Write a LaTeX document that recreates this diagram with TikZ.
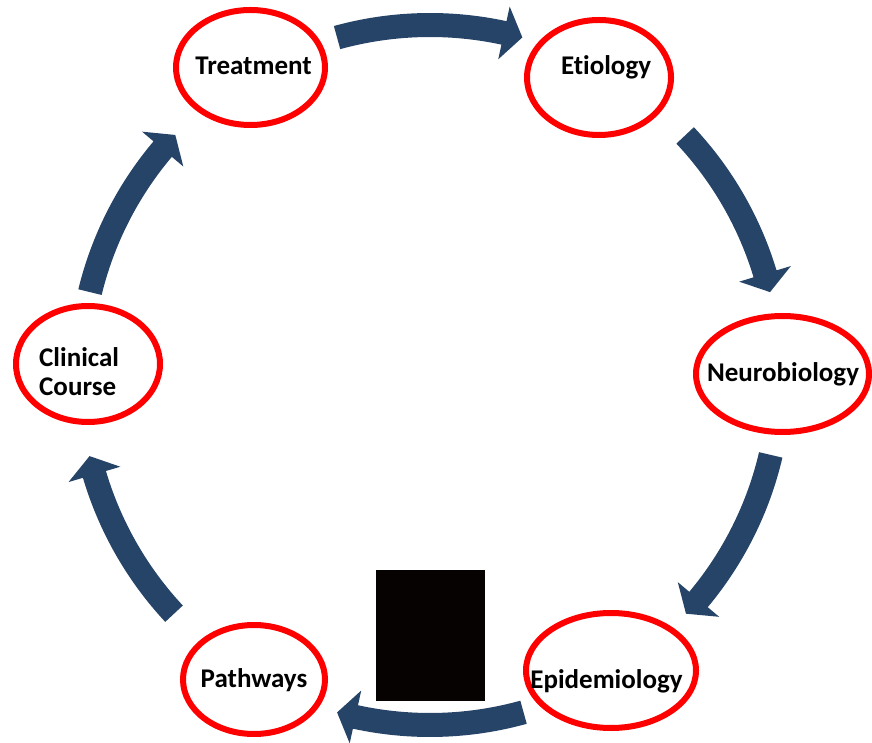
\documentclass[tikz,border=0pt]{standalone}
\usepackage{fontspec}
\setmainfont{Carlito}[Ligatures=NoCommon]
\usetikzlibrary{shapes.geometric}
\definecolor{ringred}{RGB}{255,0,0}
\definecolor{arrowblue}{RGB}{37,68,103}
\definecolor{boxblack}{RGB}{7,2,2}
\tikzset{
  ring/.style={ellipse, draw=ringred, line width=6pt, fill=white, inner sep=0pt, minimum width=#1},
  lbl/.style={inner sep=0pt, font=\fontsize{27}{30}\selectfont\bfseries, text=black},
  cyclearrow/.style={fill=arrowblue}
}
\begin{document}
\begin{tikzpicture}[x=1pt,y=1pt]
\useasboundingbox (0,0) rectangle (872,742);
% ellipses
\node[ring=149pt, minimum height=115pt] (treat) at (250.5,674.5) {};
\node[ring=144pt, minimum height=115pt] (etio) at (599,664.5) {};
\node[ring=173pt, minimum height=116pt] (neuro) at (782.5,368) {};
\node[ring=170pt, minimum height=115pt] (epid) at (611,71.5) {};
\node[ring=142pt, minimum height=109pt] (path) at (254,62.5) {};
\node[ring=144pt, minimum height=116pt] (clin) at (88,378) {};
% labels
\node[lbl, anchor=base] (treatT) at (253.5,667) {Treatment};
\node[lbl, anchor=base] (etioT) at (606,667) {Etiology};
\node[lbl, anchor=base] (neuroT) at (783,360) {Neurobiology};
\node[lbl, anchor=base] (epidT) at (606.5,54) {Epidemiology};
\node[lbl, anchor=base] (pathT) at (254,55) {Pathways};
\node[lbl, anchor=base west] (clinT1) at (39,375) {Clinical};
\node[lbl, anchor=base west] (clinT2) at (39,346) {Course};
% curved block arrows
\begin{scope}[shift={(430,367)}]
\foreach \t/\p in {105.4/74.7, 43.2/13.7, -13.2/-43, -74.5/-105.4, -137/-166.6, 166.3/136.7}{
  \pgfmathsetmacro\b{\p+3.1}
  \fill[cyclearrow] (\t:362pt) arc[start angle=\t, end angle=\b, radius=362pt]
    -- (\b:377pt) -- (\p:350pt) -- (\b:323pt) -- (\b:338pt)
    arc[start angle=\b, end angle=\t, radius=338pt] -- cycle;
}
\end{scope}
% black box
\fill[boxblack] (376,41) rectangle (485,172);
\end{tikzpicture}
\end{document}
